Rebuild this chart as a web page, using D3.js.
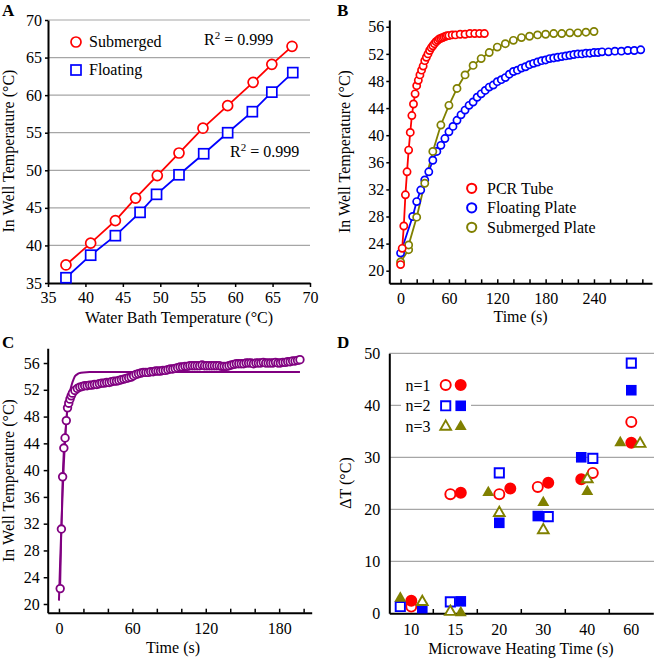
<!DOCTYPE html>
<html><head><meta charset="utf-8">
<script src="https://cdn.jsdelivr.net/npm/d3@7"></script>
<style>body{margin:0;background:#fff} svg{display:block} text{font-family:'Liberation Serif','Times New Roman',serif}</style>
</head><body>
<svg id="chart" width="654" height="658"></svg>
<script>
// ---------- Panel A data ----------
const bathTempSub   = [37.4,40.7,44.0,46.7,49.6,52.5,55.7,59.0,62.4,64.9,67.6];
const wellTempSub   = [37.4,40.3,43.3,46.3,49.3,52.3,55.6,58.6,61.7,64.1,66.5];
const bathTempFloat = [37.4,40.7,44.0,47.3,49.5,52.5,55.8,59.0,62.3,64.9,67.7];
const wellTempFloat = [35.7,38.7,41.3,44.4,46.8,49.4,52.2,55.0,57.8,60.4,63.0];
const aTicks = [35,40,45,50,55,60,65,70];

// ---------- Panel B data ----------
const pcrTime = [0,2,4,6,8,10,12,14,16,18,20,22,24,26,28,30,32,34,36,38,40,42,44,46,48,50,52,54,56,58,60,64,68,74,80,86,92,98,104];
const pcrTemp = [20.9,23.3,26.6,31.2,34.6,37.8,40.4,42.9,44.6,46.1,47.3,48.1,48.9,49.6,50.2,51.0,51.5,52.0,52.5,52.9,53.2,53.5,53.8,54.0,54.2,54.3,54.4,54.5,54.6,54.7,54.7,54.8,54.8,54.9,54.9,55.0,55.0,55.0,55.0];
const floatTime = [0,15,20,25,30,35,40,45,50,55,60,65,70,75,80,85,90,95,100,105,110,115,120,125,130,135,140,145,150,155,160,165,170,175,180,185,190,195,200,205,210,215,220,225,230,235,240,245,250,258,266,274,282,290,298];
const floatTemp = [22.6,28.0,30.2,31.9,33.4,34.6,36.3,37.6,38.5,39.5,40.5,41.3,42.2,43.0,43.7,44.4,44.9,45.6,46.1,46.6,47.1,47.4,47.9,48.2,48.5,49.0,49.4,49.6,49.9,50.1,50.4,50.6,50.8,51.0,51.1,51.3,51.4,51.5,51.6,51.7,51.8,51.9,52.0,52.0,52.1,52.1,52.2,52.2,52.3,52.3,52.4,52.4,52.5,52.5,52.6];
const subTime = [0,10,10,20,30,40,50,60,70,80,90,100,110,120,130,140,150,160,170,180,190,200,210,220,230,240];
const subTemp = [21.3,23.1,23.8,27.9,32.9,37.6,41.5,44.4,46.9,48.9,50.3,51.3,52.2,53.0,53.5,54.0,54.4,54.6,54.8,54.9,55.0,55.0,55.1,55.1,55.2,55.3];
const bYTicks = [20,24,28,32,36,40,44,48,52,56];
const bXTicks = [0,20,40,60,80,100,120,140,160,180,200,220,240,260,280,300];
const bXLabels = [0,60,120,180,240];

// ---------- Panel C data ----------
const cTime = [1,2,3,4,5,6,7,8,9,10,11,13,15,17,19,21,23,25,27,29,31,33,35,37,39,41,43,45,47,49,51,53,55,57,59,61,63,65,67,69,71,73,75,77,79,81,83,85,87,89,91,93,95,97,99,101,103,105,107,109,111,113,115,117,119,121,123,125,127,129,131,133,135,137,139,141,143,145,147,149,151,153,155,157,159,161,163,165,167,169,171,173,175,177,179,181,183,185,187,189,191,193,195,197];
const cTemp = [22.3,31.2,39.0,43.3,44.8,47.4,49.3,50.0,50.6,51.1,51.5,51.9,52.2,52.4,52.5,52.6,52.6,52.7,52.7,52.8,52.8,52.9,53.0,53.0,53.1,53.1,53.2,53.3,53.3,53.4,53.5,53.6,53.7,53.8,53.9,54.1,54.3,54.4,54.5,54.6,54.6,54.6,54.7,54.7,54.8,54.8,54.8,54.9,54.9,55.0,55.1,55.1,55.2,55.3,55.4,55.4,55.5,55.5,55.6,55.6,55.6,55.6,55.6,55.7,55.6,55.6,55.6,55.6,55.6,55.6,55.6,55.5,55.5,55.5,55.6,55.7,55.8,55.9,55.9,55.9,55.9,56.0,56.0,56.0,55.9,56.0,56.0,56.0,56.1,56.0,56.0,56.0,56.0,56.1,56.0,56.0,56.1,56.1,56.2,56.2,56.3,56.3,56.4,56.5];
const cFitTime = [0,1,2,3,4,5,6,7,8,9,10,11,12,13,14,16,18,20,25,197];
const cFitTemp = [20.5,26.5,31.5,36.5,41.0,44.5,47.5,49.5,50.8,51.8,52.5,53.1,53.6,54.0,54.2,54.45,54.55,54.6,54.65,54.65];
const cYTicks = [20,24,28,32,36,40,44,48,52,56];
const cXTicks = [0,20,40,60,80,100,120,140,160,180,200];
const cXLabels = [0,60,120,180];

// ---------- Panel D data ----------
const dCategories = ["10","15","20","30","40","60"];
const n1Open   = [1.3,22.9,22.9,24.3,27.0,36.8];
const n1Filled = [2.4,23.2,24.0,25.1,25.8,32.8];
const n2Open   = [1.3,2.2,27.0,18.6,29.8,48.1];
const n2Filled = [1.0,2.3,17.4,18.7,30.0,42.9];
const n3Open   = [2.2,0.3,19.3,16.0,25.8,32.6];
const n3Filled = [2.9,0.1,23.2,21.3,23.4,32.8];
// dodge slot within each category (side-by-side placement of overlapping markers)
const n1OpenSlot   = [0,-0.45,0,-0.5,0.5,0];
const n1FilledSlot = [0,0.5,1,0.45,-0.55,0];
const n2OpenSlot   = [-1,-0.45,0,0.45,0.5,0];
const n2FilledSlot = [1,0.5,0,-0.5,-0.55,0];
const n3OpenSlot   = [1,-0.45,0,0,0,0.8];
const n3FilledSlot = [-1,0.5,-1,0,0,-1];
const dYTicks = [0,10,20,30,40,50];

const RED = "#ff0000", BLUE = "#0000ff", OLIVE = "#808000", PURPLE = "#800080", GRID = "#a6a6a6";
const FONT = "'Liberation Serif','Times New Roman',serif";
const FS = 16;

const svg = d3.select("#chart");

function styleAxis(g) {
  g.select(".domain").attr("stroke", "#000").attr("stroke-width", 2);
  g.selectAll(".tick line").attr("stroke", "#000").attr("stroke-width", 1.5);
  g.selectAll(".tick text").attr("fill", "#000").style("font-size", FS + "px").style("font-family", FONT);
}
function label(x, y, txt, opts = {}) {
  const t = svg.append("text").attr("x", x).attr("y", y).text(txt)
    .style("font-size", (opts.size || FS) + "px").style("font-family", FONT)
    .attr("fill", "#000");
  if (opts.anchor) t.attr("text-anchor", opts.anchor);
  if (opts.bold) t.style("font-weight", "bold");
  return t;
}
function yTitle(x, y, txt) {
  svg.append("text").attr("transform", `translate(${x},${y}) rotate(-90)`)
    .attr("text-anchor", "middle").style("font-size", FS + "px").style("font-family", FONT).text(txt);
}
function toPts(xs, ys) { return xs.map((v, i) => [v, ys[i]]); }

// ================= Panel A =================
{
  const x = d3.scaleLinear([35, 70], [48, 310]);
  const y = d3.scaleLinear([35, 70], [283, 20]);
  svg.append("g").selectAll("line").data(aTicks.slice(1)).join("line")
    .attr("x1", 48).attr("x2", 310).attr("y1", d => y(d)).attr("y2", d => y(d))
    .attr("stroke", GRID).attr("stroke-width", 1.2);
  const gx = svg.append("g").attr("transform", "translate(0,283)")
    .call(d3.axisBottom(x).tickValues(aTicks).tickSize(4).tickSizeOuter(0).tickPadding(5));
  styleAxis(gx);
  const gy = svg.append("g").attr("transform", "translate(48,0)")
    .call(d3.axisLeft(y).tickValues(aTicks).tickSize(3).tickSizeOuter(0).tickPadding(3));
  styleAxis(gy);
  const line = d3.line().x(d => x(d[0])).y(d => y(d[1]));
  const sub = toPts(bathTempSub, wellTempSub), flo = toPts(bathTempFloat, wellTempFloat);
  svg.append("path").datum(sub).attr("d", line).attr("fill", "none").attr("stroke", RED).attr("stroke-width", 1.8);
  svg.append("path").datum(flo).attr("d", line).attr("fill", "none").attr("stroke", BLUE).attr("stroke-width", 1.8);
  svg.append("g").selectAll("circle").data(sub).join("circle")
    .attr("cx", d => x(d[0])).attr("cy", d => y(d[1])).attr("r", 5)
    .attr("fill", "#fff").attr("stroke", RED).attr("stroke-width", 1.7);
  svg.append("g").selectAll("rect").data(flo).join("rect")
    .attr("x", d => x(d[0]) - 5).attr("y", d => y(d[1]) - 5).attr("width", 10).attr("height", 10)
    .attr("fill", "#fff").attr("stroke", BLUE).attr("stroke-width", 1.7);
  // legend
  svg.append("circle").attr("cx", 76).attr("cy", 42).attr("r", 5).attr("fill", "#fff").attr("stroke", RED).attr("stroke-width", 1.7);
  label(89, 47, "Submerged");
  svg.append("rect").attr("x", 71).attr("y", 65).attr("width", 10).attr("height", 10).attr("fill", "#fff").attr("stroke", BLUE).attr("stroke-width", 1.7);
  label(89, 75, "Floating");
  const r1 = label(204, 45, "R");
  r1.append("tspan").attr("dy", -6).style("font-size", "11px").text("2");
  r1.append("tspan").attr("dy", 6).text(" = 0.999");
  const r2 = label(230, 157, "R");
  r2.append("tspan").attr("dy", -6).style("font-size", "11px").text("2");
  r2.append("tspan").attr("dy", 6).text(" = 0.999");
  label(179, 323, "Water Bath Temperature (°C)", { anchor: "middle" });
  yTitle(14, 151, "In Well Temperature (°C)");
  label(2, 16, "A", { bold: true, size: 17 });
}

// ================= Panel B =================
{
  const x = d3.scaleLinear([-14, 312], [389.3, 652]);
  const y = d3.scaleLinear([18.14, 57], [283.3, 20]);
  const gx = svg.append("g").attr("transform", "translate(0,283.3)")
    .call(d3.axisBottom(x).tickValues(bXTicks).tickSize(-4).tickSizeOuter(0).tickPadding(9)
      .tickFormat(d => bXLabels.includes(d) ? d : ""));
  styleAxis(gx);
  const gy = svg.append("g").attr("transform", "translate(389.3,0)")
    .call(d3.axisLeft(y).tickValues(bYTicks).tickSize(3).tickSizeOuter(0).tickPadding(2));
  styleAxis(gy);
  const line = d3.line().x(d => x(d[0])).y(d => y(d[1]));
  const series = [
    { pts: toPts(floatTime, floatTemp), c: BLUE },
    { pts: toPts(subTime, subTemp), c: OLIVE },
    { pts: toPts(pcrTime, pcrTemp), c: RED },
  ];
  series.forEach(s => {
    svg.append("path").datum(s.pts).attr("d", line).attr("fill", "none").attr("stroke", s.c).attr("stroke-width", 1.8);
  });
  series.forEach(s => {
    svg.append("g").selectAll("circle").data(s.pts).join("circle")
      .attr("cx", d => x(d[0])).attr("cy", d => y(d[1])).attr("r", 3.6)
      .attr("fill", "#fff").attr("stroke", s.c).attr("stroke-width", 1.7);
  });
  const leg = [["PCR Tube", RED], ["Floating Plate", BLUE], ["Submerged Plate", OLIVE]];
  leg.forEach((l, i) => {
    svg.append("circle").attr("cx", 471.7).attr("cy", 188.3 + i * 19.5).attr("r", 4.6)
      .attr("fill", "#fff").attr("stroke", l[1]).attr("stroke-width", 2);
    label(487, 193.8 + i * 19.5, l[0]);
  });
  label(520.5, 322, "Time (s)", { anchor: "middle" });
  yTitle(350, 151.5, "In Well Temperature (°C)");
  label(337, 16, "B", { bold: true, size: 17 });
}

// ================= Panel C =================
{
  const x = d3.scaleLinear([-9.2, 206.6], [47.7, 311.7]);
  const y = d3.scaleLinear([18.7, 58.2], [612.7, 348.3]);
  const gx = svg.append("g").attr("transform", "translate(0,612.7)")
    .call(d3.axisBottom(x).tickValues(cXTicks).tickSize(-4).tickSizeOuter(0).tickPadding(10)
      .tickFormat(d => cXLabels.includes(d) ? d : ""));
  styleAxis(gx);
  const gy = svg.append("g").attr("transform", "translate(47.7,0)")
    .call(d3.axisLeft(y).tickValues(cYTicks).tickSize(4).tickSizeOuter(0).tickPadding(4));
  styleAxis(gy);
  const line = d3.line().x(d => x(d[0])).y(d => y(d[1]));
  svg.append("path").datum(toPts(cFitTime, cFitTemp)).attr("d", line).attr("fill", "none")
    .attr("stroke", PURPLE).attr("stroke-width", 2);
  svg.append("path").datum(toPts(cTime, cTemp)).attr("d", line).attr("fill", "none")
    .attr("stroke", PURPLE).attr("stroke-width", 1.8);
  svg.append("g").selectAll("circle").data(toPts(cTime, cTemp)).join("circle")
    .attr("cx", d => x(d[0])).attr("cy", d => y(d[1])).attr("r", 3.8)
    .attr("fill", "#fff").attr("stroke", PURPLE).attr("stroke-width", 1.8);
  label(173, 653, "Time (s)", { anchor: "middle" });
  yTitle(13.5, 480.5, "In Well Temperature (°C)");
  label(2, 348, "C", { bold: true, size: 17 });
}

// ================= Panel D =================
{
  const x = d3.scaleBand(dCategories, [389.3, 653.3]).padding(0);
  const y = d3.scaleLinear([0, 50], [613.3, 353.3]);
  const dodge = x.bandwidth() * 0.25;
  svg.append("g").selectAll("line").data(dYTicks.slice(1)).join("line")
    .attr("x1", 389.3).attr("x2", 654).attr("y1", d => y(d)).attr("y2", d => y(d))
    .attr("stroke", GRID).attr("stroke-width", 1.2);
  const gy = svg.append("g").attr("transform", "translate(389.3,0)")
    .call(d3.axisLeft(y).tickValues(dYTicks).tickSize(0).tickSizeOuter(0).tickPadding(9));
  styleAxis(gy);
  const gx = svg.append("g").attr("transform", "translate(0,613.3)")
    .call(d3.axisBottom(x).tickSize(0).tickSizeOuter(0).tickPadding(10));
  styleAxis(gx);
  // category boundary ticks (pointing up)
  svg.append("g").selectAll("line").data(dCategories.slice(1)).join("line")
    .attr("x1", d => x(d)).attr("x2", d => x(d)).attr("y1", 613.3).attr("y2", 609)
    .attr("stroke", "#000").attr("stroke-width", 1.5);
  // legend box
  svg.append("rect").attr("x", 401).attr("y", 370).attr("width", 70).attr("height", 66).attr("fill", "#fff");
  const sym = (type, size) => d3.symbol().type(type).size(size)();
  const defs = [
    { v: n1Open, s: n1OpenSlot, type: d3.symbolCircle, size: 80, c: RED, fill: false },
    { v: n1Filled, s: n1FilledSlot, type: d3.symbolCircle, size: 113, c: RED, fill: true },
    { v: n2Open, s: n2OpenSlot, type: d3.symbolSquare, size: 85, c: BLUE, fill: false },
    { v: n2Filled, s: n2FilledSlot, type: d3.symbolSquare, size: 112, c: BLUE, fill: true },
    { v: n3Open, s: n3OpenSlot, type: d3.symbolTriangle, size: 50, c: OLIVE, fill: false },
    { v: n3Filled, s: n3FilledSlot, type: d3.symbolTriangle, size: 62, c: OLIVE, fill: true },
  ];
  defs.forEach(d => {
    svg.append("g").selectAll("path").data(dCategories.map((c, i) => ({ c, v: d.v[i], s: d.s[i] }))).join("path")
      .attr("d", sym(d.type, d.size))
      .attr("transform", p => `translate(${x(p.c) + x.bandwidth() / 2 + p.s * dodge},${y(p.v)})`)
      .attr("fill", d.fill ? d.c : "#fff").attr("stroke", d.c).attr("stroke-width", d.fill ? 0 : 1.9);
  });
  // legend
  const legRows = [["n=1", 0, 1], ["n=2", 2, 3], ["n=3", 4, 5]];
  legRows.forEach((r, i) => {
    const cy = 385 + i * 20.8;
    label(405.5, cy + 5.5, r[0]);
    [r[1], r[2]].forEach((k, j) => {
      const d = defs[k];
      svg.append("path").attr("d", sym(d.type, d.size))
        .attr("transform", `translate(${445.7 + j * 15},${cy})`)
        .attr("fill", d.fill ? d.c : "#fff").attr("stroke", d.c).attr("stroke-width", d.fill ? 0 : 1.9);
    });
  });
  label(521, 654, "Microwave Heating Time (s)", { anchor: "middle" });
  yTitle(350.5, 483, "ΔT (°C)");
  label(337, 348, "D", { bold: true, size: 17 });
}
</script></body></html>
